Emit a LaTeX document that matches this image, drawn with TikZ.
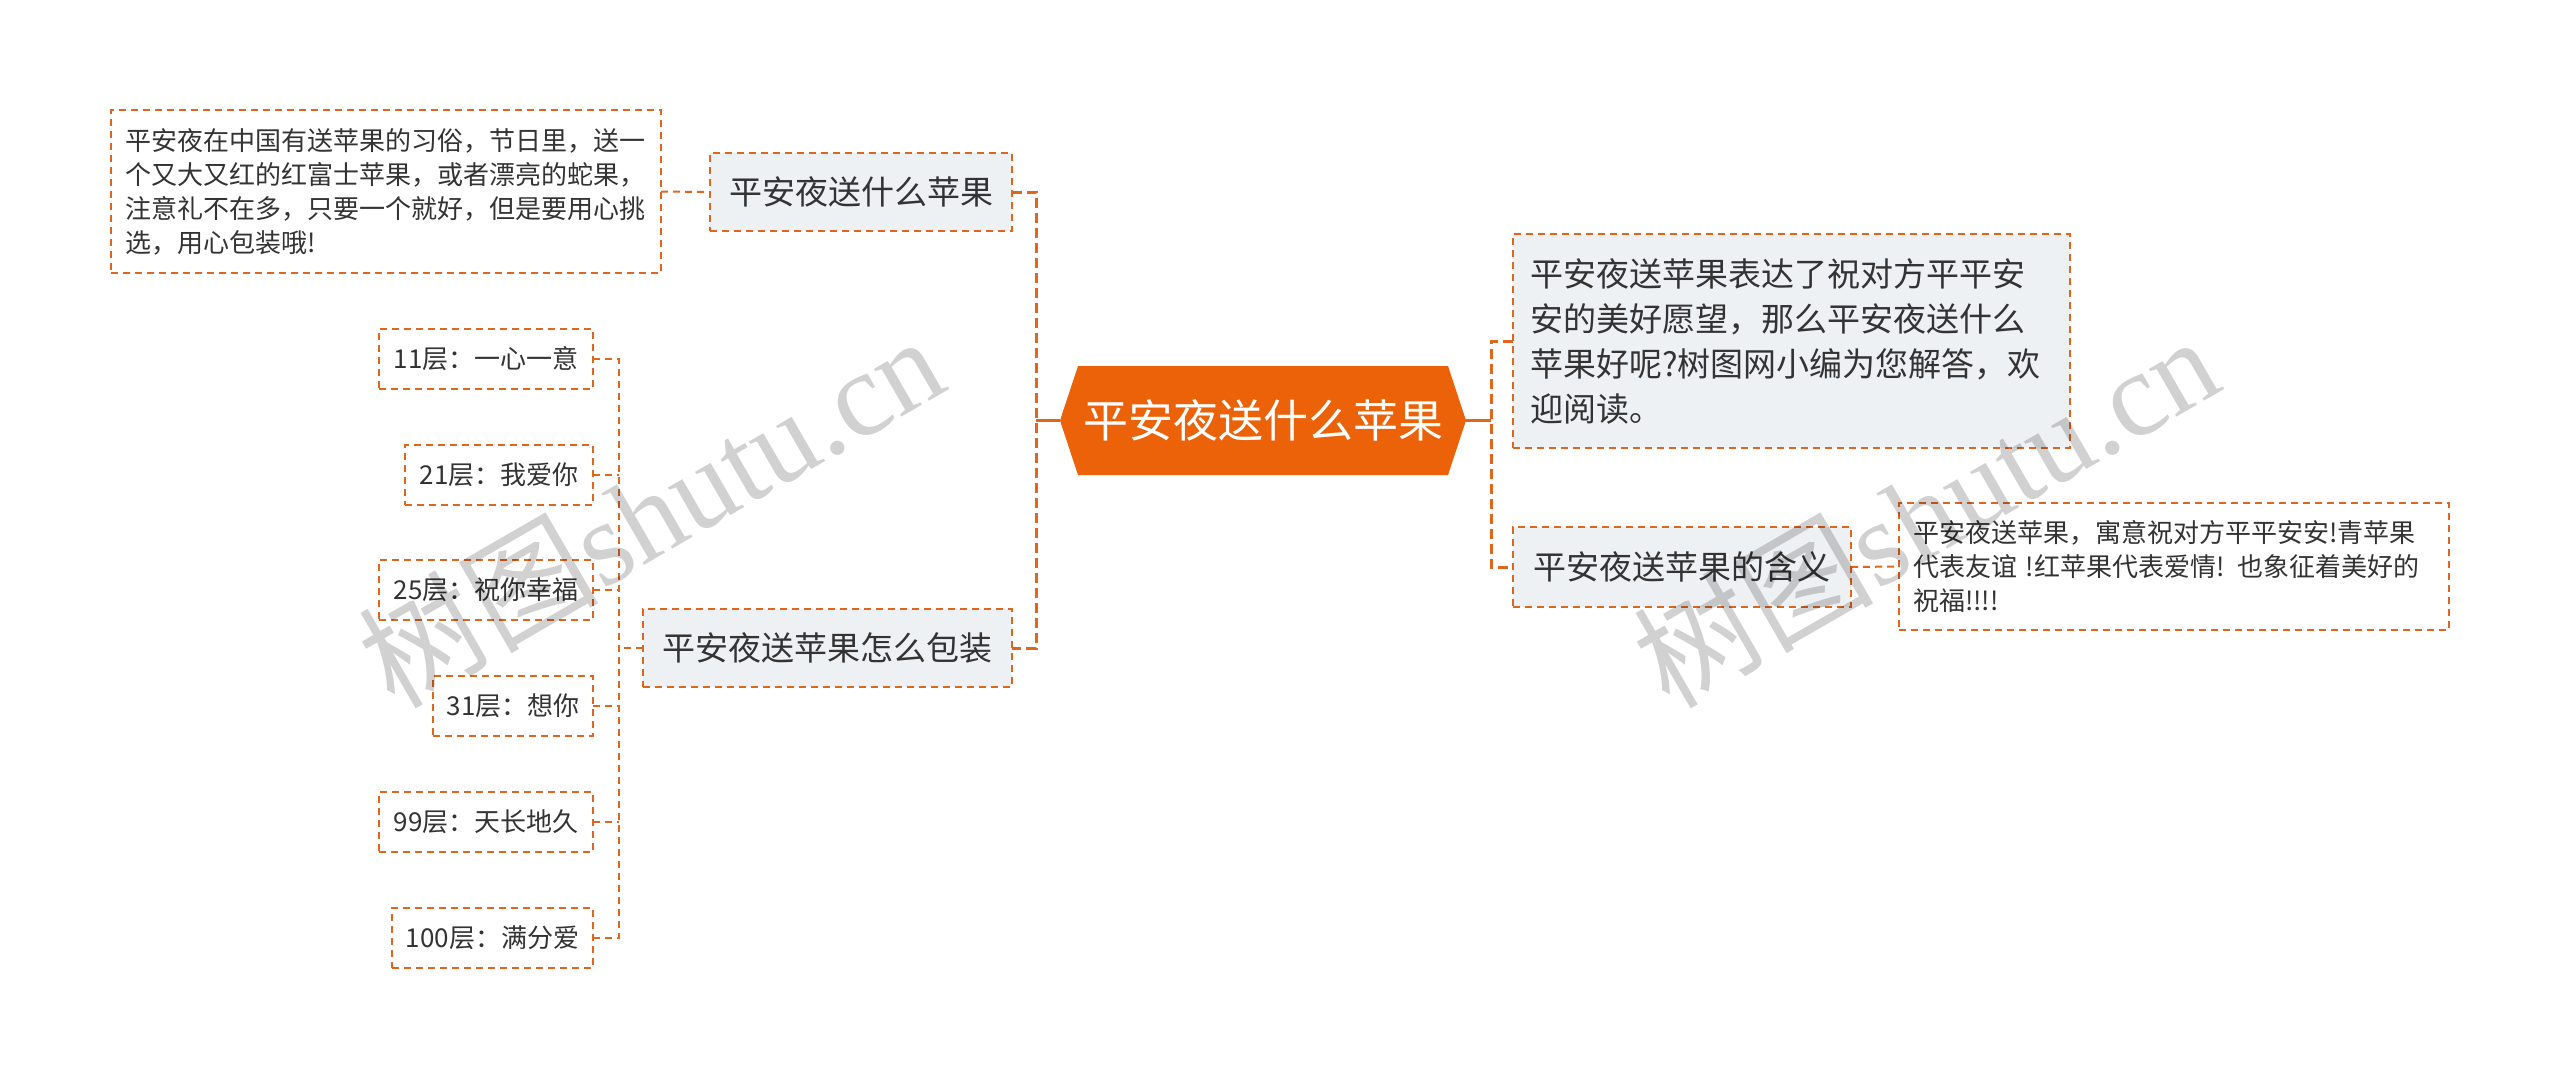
\documentclass[tikz,border=0pt]{standalone}
\usepackage{fontspec}
\setmainfont{Noto Sans CJK SC}
\newfontfamily\wmfont{Liberation Serif}
\newfontfamily\wmcjk{Noto Sans CJK SC}
\usetikzlibrary{backgrounds}
\definecolor{lineorange}{HTML}{E0661E}
\definecolor{rootorange}{HTML}{EB6209}
\definecolor{boxgray}{HTML}{EEF1F4}
\definecolor{txt}{HTML}{333333}
\begin{document}
\begin{tikzpicture}[x=1pt,y=-1pt,
  every node/.style={inner sep=0pt, outer sep=0pt, text=txt},
  dbox/.style={draw=lineorange, line width=2pt, dash pattern=on 7pt off 5pt},
  topic/.style={dbox, fill=boxgray, font=\fontsize{33}{45}\selectfont},
  leaf/.style={dbox, fill=white, font=\fontsize{26}{34}\selectfont},
  link/.style={draw=lineorange, line width=2pt, dash pattern=on 7pt off 5pt},
  trunk/.style={draw=lineorange, line width=3pt, dash pattern=on 10pt off 5pt},
  rootlink/.style={draw=lineorange, line width=3pt},
  wm/.style={text=black, text opacity=0.18, rotate=30, font=\fontsize{120}{120}\wmfont}
]
\useasboundingbox (0,0) rectangle (2560,1080);

% central topic
\node[minimum width=406pt, minimum height=109pt, text=white, font=\fontsize{45}{54}\selectfont] (root) at (1263,420.5) {平安夜送什么苹果};
\begin{scope}[on background layer]
  \fill[white] (0,0) rectangle (2560,1080);
  \fill[rootorange] ([xshift=18pt]root.north west) -- ([xshift=-18pt]root.north east) -- (root.east)
    -- ([xshift=-18pt]root.south east) -- ([xshift=18pt]root.south west) -- (root.west) -- cycle;
\end{scope}

% left branch
\node[topic, minimum width=302pt, minimum height=78pt] (n1) at (861,192) {平安夜送什么苹果};
\node[topic, minimum width=369pt, minimum height=78pt] (n2) at (827.5,648) {平安夜送苹果怎么包装};
\node[leaf, minimum width=550pt, minimum height=163pt, text width=522pt, align=left] (tl) at (386,191.5)
  {平安夜在中国有送苹果的习俗，节日里，送一\\个又大又红的红富士苹果，或者漂亮的蛇果，\\注意礼不在多，只要一个就好，但是要用心挑\\选，用心包装哦!};

\node[leaf, minimum width=214pt, minimum height=60pt, anchor=east] (l1) at (593,359) {11层：一心一意};
\node[leaf, minimum width=188pt, minimum height=60pt, anchor=east] (l2) at (593,475) {21层：我爱你};
\node[leaf, minimum width=214pt, minimum height=60pt, anchor=east] (l3) at (593,590) {25层：祝你幸福};
\node[leaf, minimum width=160pt, minimum height=60pt, anchor=east] (l4) at (593,706) {31层：想你};
\node[leaf, minimum width=214pt, minimum height=60pt, anchor=east] (l5) at (593,822) {99层：天长地久};
\node[leaf, minimum width=201pt, minimum height=60pt, anchor=east] (l6) at (593,938) {100层：满分爱};

% right branch
\node[topic, minimum width=557pt, minimum height=214pt, text width=523pt, align=left] (r1) at (1791.5,341)
  {平安夜送苹果表达了祝对方平平安\\安的美好愿望，那么平安夜送什么\\苹果好呢?树图网小编为您解答，欢\\迎阅读。};
\node[topic, minimum width=338pt, minimum height=80pt] (r2) at (1682,567) {平安夜送苹果的含义};
\node[leaf, minimum width=550pt, minimum height=127pt, text width=522pt, align=left] (r3) at (2174,566.5)
  {平安夜送苹果，寓意祝对方平平安安!青苹果\\代表友谊 !红苹果代表爱情! 也象征着美好的\\祝福!!!!};

% connectors left
\draw[rootlink] (root.west) -- ++(-24pt,0) coordinate (lj);
\draw[trunk] (n1.east) -- (n1.east -| lj) -- (n2.east -| lj) -- (n2.east);
\draw[link] (tl.east) -- (n1.west);
\draw[link] (n2.west) -- ++(-24pt,0) coordinate (lk);
\draw[link] (l1.east) -- (l1.east -| lk) -- (l6.east -| lk) -- (l6.east);
\draw[link] (l2.east) -- (l2.east -| lk);
\draw[link] (l3.east) -- (l3.east -| lk);
\draw[link] (l4.east) -- (l4.east -| lk);
\draw[link] (l5.east) -- (l5.east -| lk);

% connectors right
\draw[rootlink] (root.east) -- ++(25pt,0) coordinate (rj);
\draw[trunk] (r1.west) -- (r1.west -| rj) -- (r2.west -| rj) -- (r2.west);
\draw[link] (r2.east) -- (r3.west);

% watermarks
\node[wm] (wm1) at (650,510) {{\wmcjk 树图}shutu.cn};
\node[wm] (wm2) at (1925,510) {{\wmcjk 树图}shutu.cn};
\end{tikzpicture}
\end{document}
